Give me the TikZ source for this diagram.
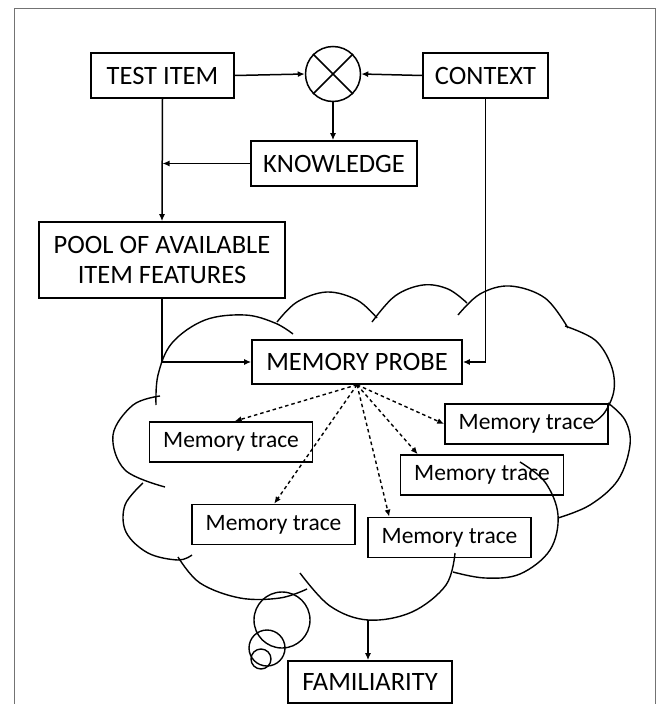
\documentclass[tikz,border=0pt]{standalone}
\usepackage{fontspec}
\setmainfont{Carlito}
\usetikzlibrary{arrows.meta}
\begin{document}
\begin{tikzpicture}[x=1pt,y=-1pt,
  box/.style={draw, line width=1.6pt, inner sep=0pt, font=\fontsize{26.5}{30}\selectfont, text=black},
  tracebox/.style={draw, line width=1.6pt, inner sep=0pt, minimum width=163pt, minimum height=40pt, font=\fontsize{23.5}{28}\selectfont, text=black},
  link/.style={line width=1.5pt, -{Latex[length=7pt,width=6pt]}},
  dlink/.style={line width=1.4pt, dash pattern=on 3.5pt off 3pt, -{Latex[length=7pt,width=6pt]}},
  cloud/.style={line width=1.4pt, smooth, tension=0.6},
  frame/.style={line width=1pt, draw=black!55}]
\useasboundingbox (0,0) rectangle (659,704);
\draw[frame] (14,704) -- (14,8) -- (655,8) -- (655,704);

% nodes
\node[box, minimum width=143pt, minimum height=45pt] (test) at (162.5,75.5) {TEST ITEM};
\node[box, minimum width=125pt, minimum height=45pt] (ctx) at (485.5,75.5) {CONTEXT};
\node[draw, circle, line width=1.5pt, minimum size=55pt, inner sep=0pt] (circ) at (333,74) {};
\draw[line width=1.5pt] (circ.45) -- (circ.225) (circ.135) -- (circ.315);
\node[box, minimum width=166pt, minimum height=45pt] (know) at (334,163.5) {KNOWLEDGE};
\node[box, minimum width=246pt, minimum height=76pt, align=center] (pool) at (162,260) {POOL OF AVAILABLE\\ITEM FEATURES};
\node[box, minimum width=210pt, minimum height=44pt] (probe) at (357,362) {MEMORY PROBE};
\node[tracebox] (tr1) at (231,442) {Memory trace};
\node[tracebox] (tr2) at (273.5,524.5) {Memory trace};
\node[tracebox] (tr3) at (449.5,537.5) {Memory trace};
\node[tracebox] (tr4) at (482,475) {Memory trace};
\node[tracebox] (tr5) at (526.5,424) {Memory trace};
\node[box, minimum width=164pt, minimum height=42pt] (fam) at (370,682) {FAMILIARITY};

% cloud
\draw[cloud] plot coordinates {(156,405) (158,375) (172,343) (205,320) (245,315) (275,323) (293,334)};
\draw[cloud] plot coordinates {(277,322) (297,302) (327,292) (357,300) (377,318)};
\draw[cloud] plot coordinates {(372,322) (395,296) (423,285) (448,289) (467,303)};
\draw[cloud] plot coordinates {(458,315) (480,294) (510,286) (545,298) (568,328)};
\draw[cloud] plot coordinates {(565,326) (595,340) (611,365) (614,390) (605,412) (593,423)};
\draw[cloud] plot coordinates {(608,403) (625,420) (630,445) (618,480) (590,505) (558,518)};
\draw[cloud] plot coordinates {(520,462) (545,482) (558,515) (550,550) (520,574) (485,578) (453,572)};
\draw[cloud] plot coordinates {(455,553) (446,585) (412,612) (368,620) (330,606) (300,573)};
\draw[cloud] plot coordinates {(178,557) (200,583) (240,598) (280,598) (307,589)};
\draw[cloud] plot coordinates {(143,483) (125,505) (126,532) (148,553) (178,560) (192,555)};
\draw[cloud] plot coordinates {(160,396) (133,405) (113,435) (125,470) (165,487)};

% thought bubbles
\draw[line width=1.4pt] (282,620) circle[radius=28];
\draw[line width=1.4pt] (267,648) circle[radius=18];
\draw[line width=1.4pt] (261,659) circle[radius=10];
\coordinate (cb) at (368,620);

% connectors
\draw[link] (test.east) -- (circ.west);
\draw[link] (ctx.west) -- (circ.east);
\draw[link] (circ.south) -- (circ.south |- know.north);
\draw[link] (know.west) -- (know.west -| test.south);
\draw[link] (test.south) -- (pool.north);
\draw[link] (pool.south) |- (probe.west);
\draw[link] (ctx.south) |- (probe.east);
\draw[dlink] (probe.south) -- ([xshift=86pt]tr1.north west);
\draw[dlink] (probe.south) -- ([xshift=83pt]tr2.north west);
\draw[dlink] (probe.south) -- ([xshift=22pt]tr3.north west);
\draw[dlink] (probe.south) -- ([xshift=18pt]tr4.north west);
\draw[dlink] (probe.south) -- (tr5.west);
\draw[link] (cb) -- (cb |- fam.north);
\end{tikzpicture}
\end{document}
